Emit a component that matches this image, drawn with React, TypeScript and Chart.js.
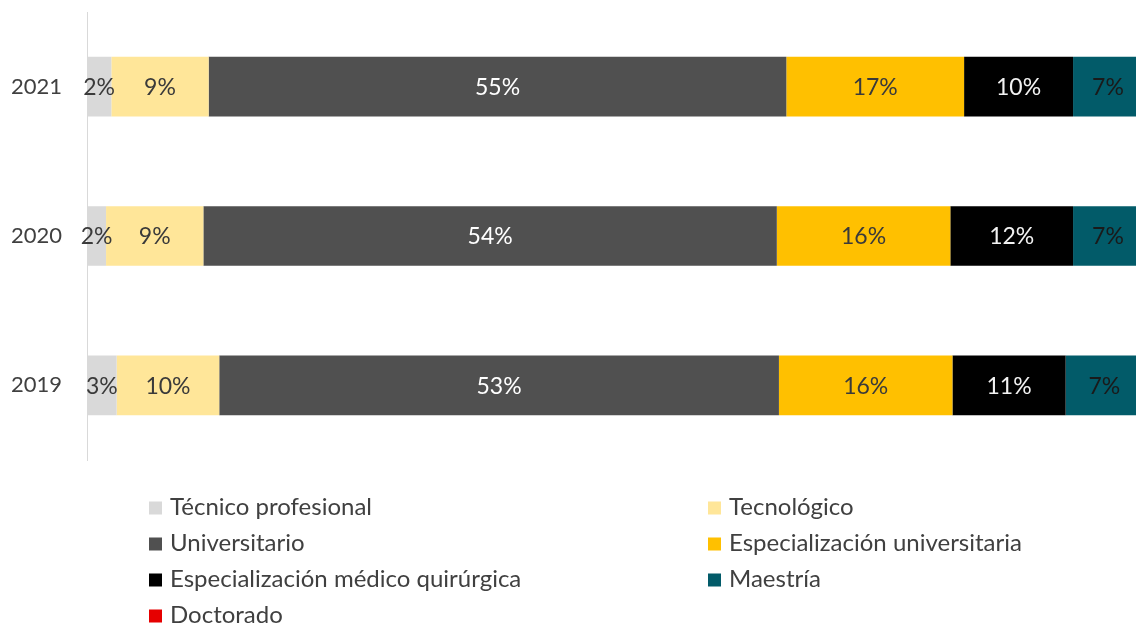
import React, { useEffect, useRef } from 'react';
import { Chart, registerables } from 'chart.js';

Chart.register(...registerables);

const years = ['2021', '2020', '2019'];
const seriesNames = [
  'Técnico profesional',
  'Tecnológico',
  'Universitario',
  'Especialización universitaria',
  'Especialización médico quirúrgica',
  'Maestría',
  'Doctorado',
];
const tecnicoProfesional = [2.3, 1.8, 2.8];
const tecnologico = [9.2, 9.2, 9.7];
const universitario = [54.6, 54.2, 52.9];
const especializacionUniversitaria = [16.8, 16.4, 16.4];
const especializacionMedica = [10.3, 11.6, 10.7];
const maestria = [6.6, 6.6, 7.3];
const doctorado = [0.2, 0.2, 0.2];

const seriesValues = [
  tecnicoProfesional,
  tecnologico,
  universitario,
  especializacionUniversitaria,
  especializacionMedica,
  maestria,
  doctorado,
];
const seriesColors = ['#D9D9D9', '#FFE699', '#505050', '#FFC000', '#000000', '#025B69', '#E60000'];
const labelColors = ['#3a3a3a', '#3a3a3a', '#ffffff', '#3a3a3a', '#f2f2f2', '#1a1a1a', '#ffffff'];

const FONT = 'Lato, "Open Sans", sans-serif';
const LEGEND_FONT_SIZE = 24;
const LABEL_FONT_SIZE = 23;
const TICK_FONT_SIZE = 22;
const TEXT_COLOR = '#404040';

const dataLabelPlugin = {
  id: 'segmentLabels',
  afterDatasetsDraw(chart: any) {
    const ctx = chart.ctx;
    ctx.save();
    ctx.font = `${LABEL_FONT_SIZE}px ${FONT}`;
    ctx.textAlign = 'center';
    ctx.textBaseline = 'middle';
    chart.data.datasets.forEach((ds: any, di: number) => {
      const meta = chart.getDatasetMeta(di);
      meta.data.forEach((bar: any, i: number) => {
        const v = ds.data[i];
        if (v < 1) return;
        const cx = (bar.x + bar.base) / 2;
        ctx.fillStyle = labelColors[di];
        ctx.fillText(`${Math.round(v)}%`, cx, bar.y + 1);
      });
    });
    ctx.restore();
  },
};

const legendPlugin = {
  id: 'gridLegend',
  afterDraw(chart: any) {
    const ctx = chart.ctx;
    ctx.save();
    ctx.font = `${LEGEND_FONT_SIZE}px ${FONT}`;
    ctx.textAlign = 'left';
    ctx.textBaseline = 'middle';
    chart.data.datasets.forEach((ds: any, i: number) => {
      const col = i % 2;
      const row = Math.floor(i / 2);
      const bx = col === 0 ? 149 : 708;
      const cy = 508 + row * 36;
      ctx.fillStyle = ds.backgroundColor;
      ctx.fillRect(bx, cy - 6.5, 13, 13);
      ctx.fillStyle = TEXT_COLOR;
      ctx.fillText(ds.label, bx + 21, cy - 1);
    });
    ctx.restore();
  },
};

export default function App() {
  const ref = useRef<HTMLCanvasElement | null>(null);
  useEffect(() => {
    if (!ref.current) return;
    const chart = new Chart(ref.current, {
      type: 'bar',
      data: {
        labels: years,
        datasets: seriesNames.map((name, i) => ({
          label: name,
          data: seriesValues[i],
          backgroundColor: seriesColors[i],
          borderWidth: 0,
          barPercentage: 0.4,
          categoryPercentage: 1,
        })),
      },
      options: {
        indexAxis: 'y',
        responsive: false,
        animation: false,
        devicePixelRatio: 1,
        layout: { padding: { left: 0, right: 5, top: 12, bottom: 164 } },
        plugins: {
          legend: { display: false },
          tooltip: { enabled: false },
          title: { display: false },
        },
        scales: {
          x: {
            stacked: true,
            display: false,
            min: 0,
            max: 100,
          },
          y: {
            stacked: true,
            grid: { display: false, drawTicks: false },
            border: { display: true, color: '#D9D9D9', width: 1 },
            ticks: {
              padding: 25,
              color: TEXT_COLOR,
              font: { family: FONT, size: TICK_FONT_SIZE },
            },
            afterFit: (scale: any) => {
              scale.width = 87;
              scale.paddingTop = 0;
              scale.paddingBottom = 0;
            },
          },
        },
      } as any,
      plugins: [dataLabelPlugin, legendPlugin],
    });
    return () => chart.destroy();
  }, []);

  return (
    <div
      style={{
        position: 'fixed',
        left: 0,
        top: 0,
        width: 1136,
        height: 624,
        overflow: 'hidden',
        background: '#ffffff',
      }}
    >
      <canvas ref={ref} width={1150} height={624} style={{ width: 1150, height: 624, display: 'block' }} />
    </div>
  );
}
